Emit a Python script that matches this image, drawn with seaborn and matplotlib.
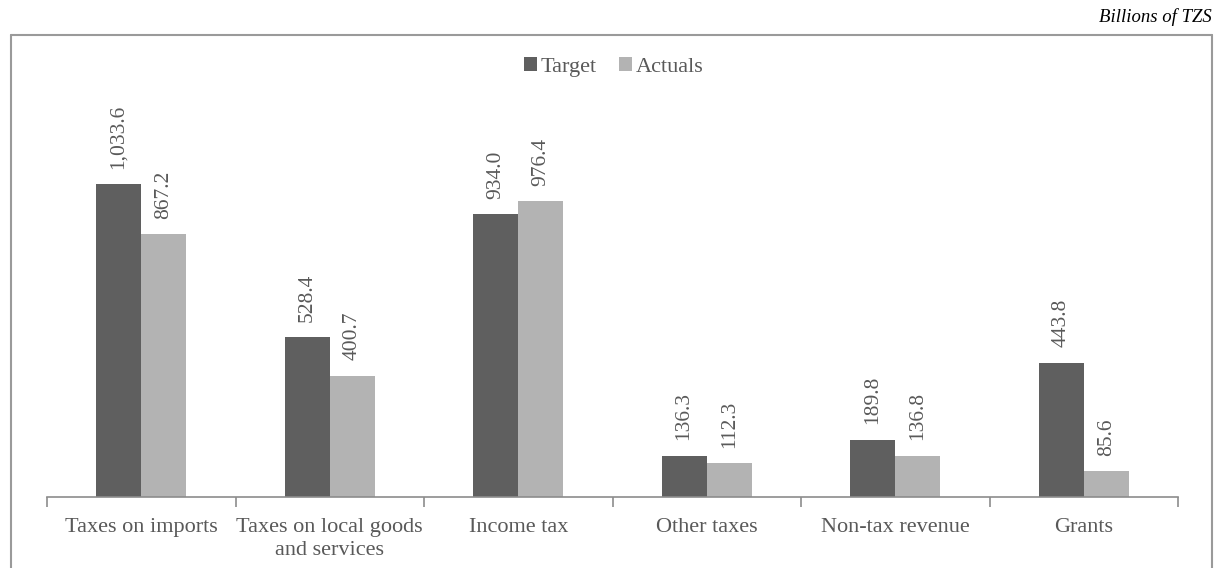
import pandas as pd
import numpy as np
import matplotlib
matplotlib.use("Agg")
import matplotlib.pyplot as plt
import seaborn as sns
from matplotlib.lines import Line2D

categories = ["Taxes on imports", "Taxes on local goods\nand services", "Income tax",
              "Other taxes", "Non-tax revenue", "Grants"]
target = [1033.6, 528.4, 934.0, 136.3, 189.8, 443.8]
actuals = [867.2, 400.7, 976.4, 112.3, 136.8, 85.6]
series = ["Target", "Actuals"]

df = pd.DataFrame({
    "category": categories * 2,
    "value": target + actuals,
    "series": ["Target"] * len(categories) + ["Actuals"] * len(categories),
})

sns.set_style("white")
plt.rcParams["font.family"] = ["Liberation Serif", "DejaVu Serif"]

text_col = "#595959"
colors = ["#5f5f5f", "#b3b3b3"]

fig = plt.figure(figsize=(12.15, 5.68), dpi=100)
ax = fig.add_axes([47 / 1215, 71 / 568, (1178 - 47) / 1215, (497 - 40) / 568])

sns.barplot(data=df, x="category", y="value", hue="series", hue_order=series,
            palette=colors, width=0.48, ax=ax, saturation=1, legend=True, linewidth=0)

ax.set_ylim(0, 1509)
ax.set_xlim(-0.5, len(categories) - 0.5)

# value labels
for cont in ax.containers:
    labels = [f"{v:,.1f}" for v in cont.datavalues]
    ax.bar_label(cont, labels=labels, rotation=90, padding=11, fontsize=15.5, color=text_col)

for s in ["top", "right", "left"]:
    ax.spines[s].set_visible(False)
ax.spines["bottom"].set_color("#8c8c8c")
ax.spines["bottom"].set_linewidth(1.2)
ax.set_yticks([])
ax.set_xlabel("")
ax.set_ylabel("")
ax.set_xticks(range(len(categories)))
ax.set_xticklabels(categories, fontsize=16, color=text_col, linespacing=1.3)
ax.tick_params(axis="x", which="major", length=0, pad=15)
ax.set_xticks(np.arange(-0.5, len(categories)), minor=True)
ax.tick_params(axis="x", which="minor", bottom=True, length=7, width=1.2,
               color="#8c8c8c", direction="out")

# legend
handles, labs = ax.get_legend_handles_labels()
ax.legend(handles, labs, loc="center", bbox_to_anchor=(0.505, 1 - 67 / 568),
          bbox_transform=fig.transFigure, ncol=2, frameon=False, fontsize=16,
          handlelength=0.6, handleheight=0.6, handletextpad=0.15, columnspacing=1.0,
          labelcolor=text_col)

# outer frame
fc = "#9a9a9a"
x0, x1, ytop = 11 / 1215, 1212 / 1215, 1 - 35 / 568
fig.add_artist(Line2D([x0, x0], [0, ytop], color=fc, lw=1.5, transform=fig.transFigure))
fig.add_artist(Line2D([x1, x1], [0, ytop], color=fc, lw=1.5, transform=fig.transFigure))
fig.add_artist(Line2D([x0, x1], [ytop, ytop], color=fc, lw=1.5, transform=fig.transFigure))

fig.text(1212 / 1215, 1 - 17 / 568, "Billions of TZS", ha="right", va="center",
         fontsize=13.5, style="italic", color="black")

fig.savefig("out.png", dpi=100)
